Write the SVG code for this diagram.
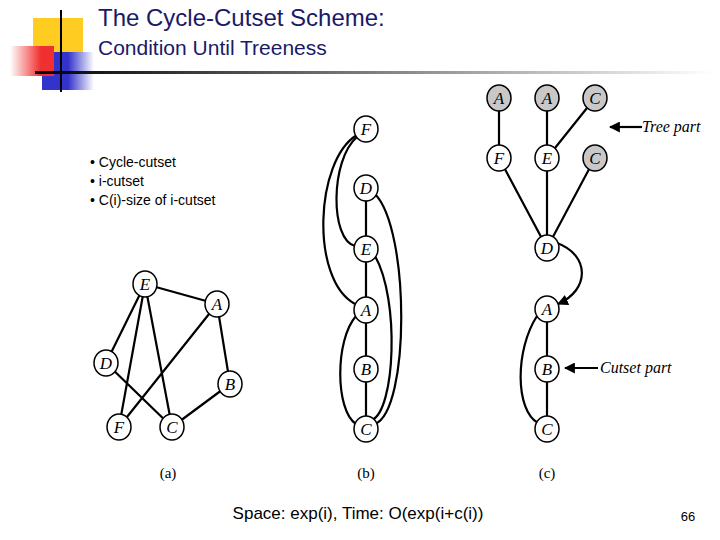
<svg xmlns="http://www.w3.org/2000/svg" width="720" height="540" viewBox="0 0 720 540">
<defs>
<style>
.n{fill:#fff;stroke:#000;stroke-width:1.5}
.g{fill:#c8c8c8;stroke:#000;stroke-width:1.5}
.l{font-family:"Liberation Serif",serif;font-style:italic;font-size:17px;text-anchor:middle}
.e{stroke:#000;stroke-width:2.2;fill:none}
.b{font-family:"Liberation Sans",sans-serif;font-size:14px}
.cap{font-family:"Liberation Serif",serif;font-size:15px;text-anchor:middle}
</style>
<linearGradient id="hl" x1="0" x2="1"><stop offset="0" stop-color="#000"/><stop offset="1" stop-color="#fff"/></linearGradient>
<linearGradient id="rd" x1="0" x2="1"><stop offset="0" stop-color="#fff"/><stop offset="0.7" stop-color="#f03030"/></linearGradient>
<linearGradient id="bl" x1="0" x2="1"><stop offset="0.5" stop-color="#3333cc"/><stop offset="1" stop-color="#fff"/></linearGradient>
<marker id="ar" viewBox="0 0 10 10" refX="9" refY="5" markerWidth="5" markerHeight="5" orient="auto"><path d="M0,0L10,5L0,10z"/></marker>
</defs>
<g id="logo">
<rect x="33" y="18" width="50" height="40" fill="#ffcc22"/>
<rect x="42" y="52" width="52" height="38" fill="url(#bl)"/>
<rect x="10" y="46" width="44" height="30" fill="url(#rd)"/>
<line x1="61" y1="10" x2="61" y2="92" stroke="#000" stroke-width="2"/>
<rect x="35" y="71" width="680" height="3" fill="url(#hl)"/>
</g>
<g id="title" font-family="'Liberation Sans',sans-serif" fill="#1a1a66">
<text x="98" y="26" font-size="24">The Cycle-Cutset Scheme:</text>
<text x="98" y="55" font-size="21">Condition Until Treeness</text>
</g>
<g id="bullets" class="b">
<text x="90" y="167" class="b">• Cycle-cutset</text>
<text x="90" y="186" class="b">• i-cutset</text>
<text x="90" y="205" class="b">• C(i)-size of i-cutset</text>
</g>
<g id="connectors">
<path class="e" d="M145,284L217,304M145,284L106,363M145,284L119,427M145,284L172,427M217,304L119,427M217,304L230,384M106,363L172,427M230,384L172,427"/>
<path class="e" d="M366,188V429"/>
<path class="e" d="M357,137C330,160 330,240 355,246"/>
<path class="e" d="M357,135C315,160 310,280 355,304"/>
<path class="e" d="M375,194C410,230 410,410 375,424"/>
<path class="e" d="M375,256C400,300 395,410 372,420"/>
<path class="e" d="M356,316C335,340 335,410 356,424"/>
<path class="e" d="M499,98V158M547,98V248M595,98L547,158M499,158L547,248M595,158L547,248M547,309V429"/>
<path class="e" d="M537,316C515,350 515,410 538,423"/>
<path class="e" d="M557,243C590,255 590,290 558,304" marker-end="url(#ar)"/>
<path class="e" d="M642,127H610" marker-end="url(#ar)"/>
<path class="e" d="M598,368H565" marker-end="url(#ar)"/>
</g>
<g id="nodes-a">
<g id="a-E"><ellipse class="n" cx="145" cy="284" rx="12" ry="13"/><text class="l" x="145" y="290">E</text></g>
<g id="a-A"><ellipse class="n" cx="217" cy="304" rx="12" ry="13"/><text class="l" x="217" y="310">A</text></g>
<g id="a-D"><ellipse class="n" cx="106" cy="363" rx="12" ry="13"/><text class="l" x="106" y="369">D</text></g>
<g id="a-B"><ellipse class="n" cx="230" cy="384" rx="12" ry="13"/><text class="l" x="230" y="390">B</text></g>
<g id="a-F"><ellipse class="n" cx="119" cy="427" rx="12" ry="13"/><text class="l" x="119" y="433">F</text></g>
<g id="a-C"><ellipse class="n" cx="172" cy="427" rx="12" ry="13"/><text class="l" x="172" y="433">C</text></g>
</g>
<g id="nodes-b">
<g id="b-F"><ellipse class="n" cx="366" cy="129" rx="12" ry="13"/><text class="l" x="366" y="135">F</text></g>
<g id="b-D"><ellipse class="n" cx="366" cy="188" rx="12" ry="13"/><text class="l" x="366" y="194">D</text></g>
<g id="b-E"><ellipse class="n" cx="366" cy="249" rx="12" ry="13"/><text class="l" x="366" y="255">E</text></g>
<g id="b-A"><ellipse class="n" cx="366" cy="310" rx="12" ry="13"/><text class="l" x="366" y="316">A</text></g>
<g id="b-B"><ellipse class="n" cx="366" cy="369" rx="12" ry="13"/><text class="l" x="366" y="375">B</text></g>
<g id="b-C"><ellipse class="n" cx="366" cy="429" rx="12" ry="13"/><text class="l" x="366" y="435">C</text></g>
</g>
<g id="nodes-c">
<g id="c-A1"><ellipse class="g" cx="499" cy="98" rx="12" ry="13"/><text class="l" x="499" y="104">A</text></g>
<g id="c-A2"><ellipse class="g" cx="547" cy="98" rx="12" ry="13"/><text class="l" x="547" y="104">A</text></g>
<g id="c-C1"><ellipse class="g" cx="595" cy="98" rx="12" ry="13"/><text class="l" x="595" y="104">C</text></g>
<g id="c-F"><ellipse class="n" cx="499" cy="158" rx="12" ry="13"/><text class="l" x="499" y="164">F</text></g>
<g id="c-E"><ellipse class="n" cx="547" cy="158" rx="12" ry="13"/><text class="l" x="547" y="164">E</text></g>
<g id="c-C2"><ellipse class="g" cx="595" cy="158" rx="12" ry="13"/><text class="l" x="595" y="164">C</text></g>
<g id="c-D"><ellipse class="n" cx="547" cy="248" rx="12" ry="13"/><text class="l" x="547" y="254">D</text></g>
<g id="c-A"><ellipse class="n" cx="547" cy="309" rx="12" ry="13"/><text class="l" x="547" y="315">A</text></g>
<g id="c-B"><ellipse class="n" cx="547" cy="369" rx="12" ry="13"/><text class="l" x="547" y="375">B</text></g>
<g id="c-C"><ellipse class="n" cx="547" cy="429" rx="12" ry="13"/><text class="l" x="547" y="435">C</text></g>
</g>
<g id="labels">
<text class="l" x="642" y="132" style="text-anchor:start;font-size:16px">Tree part</text>
<text class="l" x="600" y="373" style="text-anchor:start;font-size:16px">Cutset part</text>
<text class="cap" x="168" y="478">(a)</text>
<text class="cap" x="366" y="478">(b)</text>
<text class="cap" x="547" y="478">(c)</text>
<text x="358" y="519" font-family="'Liberation Sans',sans-serif" font-size="17" text-anchor="middle">Space: exp(i), Time: O(exp(i+c(i))</text>
<text x="688" y="521" font-family="'Liberation Sans',sans-serif" font-size="13" text-anchor="middle">66</text>
</g>
</svg>
